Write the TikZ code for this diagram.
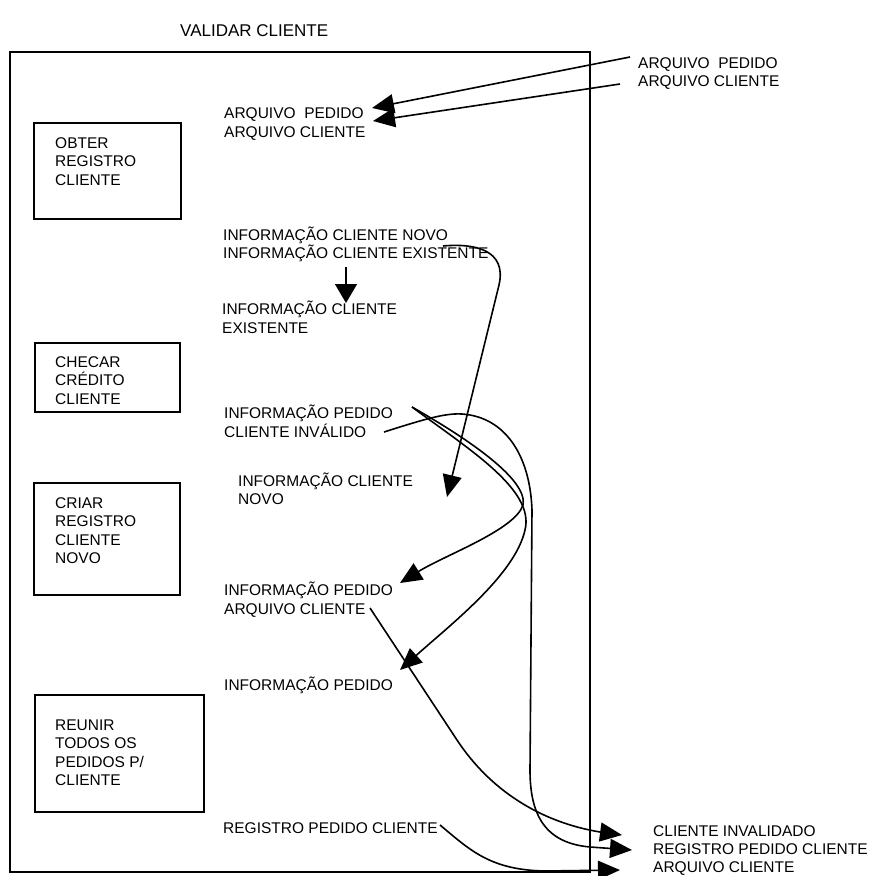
\documentclass[tikz,border=0pt]{standalone}
\usepackage{fontspec}
\setmainfont{Liberation Sans}
\usetikzlibrary{arrows.meta}
\begin{document}
\begin{tikzpicture}[x=1pt,y=-1pt,
  % multi-line labels are placed by the baseline of their last line
  lbl/.style={anchor=base west,inner sep=0pt,align=left,
    font=\fontsize{15.5}{18.3}\selectfont},
  procbox/.style={draw,line width=1.2pt},
  frame/.style={draw,line width=1.3pt},
  flow/.style={line width=1.6pt,-{Triangle[length=22pt,width=19pt]}}]
\useasboundingbox (0,0) rectangle (871,876);

% title and outer frame of the process
\node[lbl,font=\fontsize{17}{20}\selectfont] (title) at (180,36) {VALIDAR CLIENTE};
\draw[frame] (10,52) rectangle (590,872);

% sub-process boxes
\draw[procbox] (34,123) rectangle (181,219);
\node[lbl] (obter) at (55,185.1) {OBTER\\REGISTRO\\CLIENTE};
\draw[procbox] (35,343) rectangle (180,412);
\node[lbl] (checar) at (55,404.1) {CHECAR\\CRÉDITO\\CLIENTE};
\draw[procbox] (34,483) rectangle (180,595);
\node[lbl] (criar) at (55,563.4) {CRIAR\\REGISTRO\\CLIENTE\\NOVO};
\draw[procbox] (35,695) rectangle (204,812);
\node[lbl] (reunir) at (55,785.4) {REUNIR\\TODOS OS\\PEDIDOS P/\\CLIENTE};

% data labels
\node[lbl] (infiles) at (224,137) {ARQUIVO~~PEDIDO\\ARQUIVO CLIENTE};
\node[lbl] (outfiles) at (638,86.8) {ARQUIVO~~PEDIDO\\ARQUIVO CLIENTE};
\node[lbl] (infoin) at (223,258.8) {INFORMAÇÃO CLIENTE NOVO\\INFORMAÇÃO CLIENTE EXISTENTE};
\node[lbl] (infoexist) at (222,333) {INFORMAÇÃO CLIENTE\\EXISTENTE};
\node[lbl] (infoinval) at (224,437) {INFORMAÇÃO PEDIDO\\CLIENTE INVÁLIDO};
\node[lbl] (infonovo) at (238,504.8) {INFORMAÇÃO CLIENTE\\NOVO};
\node[lbl] (infoarq) at (224,614) {INFORMAÇÃO PEDIDO\\ARQUIVO CLIENTE};
\node[lbl] (infoped) at (224,690.5) {INFORMAÇÃO PEDIDO};
\node[lbl] (regped) at (223,833.5) {REGISTRO PEDIDO CLIENTE};
\node[lbl,font=\fontsize{15.5}{17.8}\selectfont] (outputs) at (653,872)
  {CLIENTE INVALIDADO\\REGISTRO PEDIDO CLIENTE\\ARQUIVO CLIENTE};

% connector end points
\coordinate (fileA) at (630,57);
\coordinate (fileAin) at (372,108);
\coordinate (fileB) at (620,84);
\coordinate (fileBin) at (373,121);
\coordinate (downS) at (346,267);
\coordinate (downE) at (346,303);
\coordinate (novoS) at (443,246);
\coordinate (novoE) at (447,497);
\coordinate (invS) at (384,432);
\coordinate (invE) at (632,850);
\coordinate (pedS) at (412,407);
\coordinate (arqE) at (400,583);
\coordinate (pedE) at (400,670);
\coordinate (arqS) at (370,608);
\coordinate (cinvE) at (622,835);
\coordinate (regS) at (440,825);
\coordinate (regE) at (620,870);

% flows
\draw[flow] (fileA) -- (fileAin);
\draw[flow] (fileB) -- (fileBin);
\draw[flow,-{Triangle[length=19pt,width=22pt]}] (downS) -- (downE);
\draw[flow] (novoS) .. controls (475,243) and (507,250) .. (499,285) -- (novoE);
\draw[flow] (invS) .. controls (425,419) and (445,413) .. (462,414)
  .. controls (505,417) and (530,455) .. (532,510) -- (530,770)
  .. controls (530,815) and (545,843) .. (590,847) -- (invE);
\draw[flow] (pedS) .. controls (470,440) and (528,480) .. (523,505)
  .. controls (515,530) and (445,555) .. (arqE);
\draw[flow] (pedS) .. controls (470,450) and (535,490) .. (525,530)
  .. controls (515,575) and (450,625) .. (pedE);
\draw[flow] (arqS) -- (457,740) .. controls (490,790) and (540,822) .. (600,832) -- (cinvE);
\draw[flow] (regS) .. controls (470,850) and (490,870) .. (545,871) -- (regE);
\end{tikzpicture}
\end{document}
